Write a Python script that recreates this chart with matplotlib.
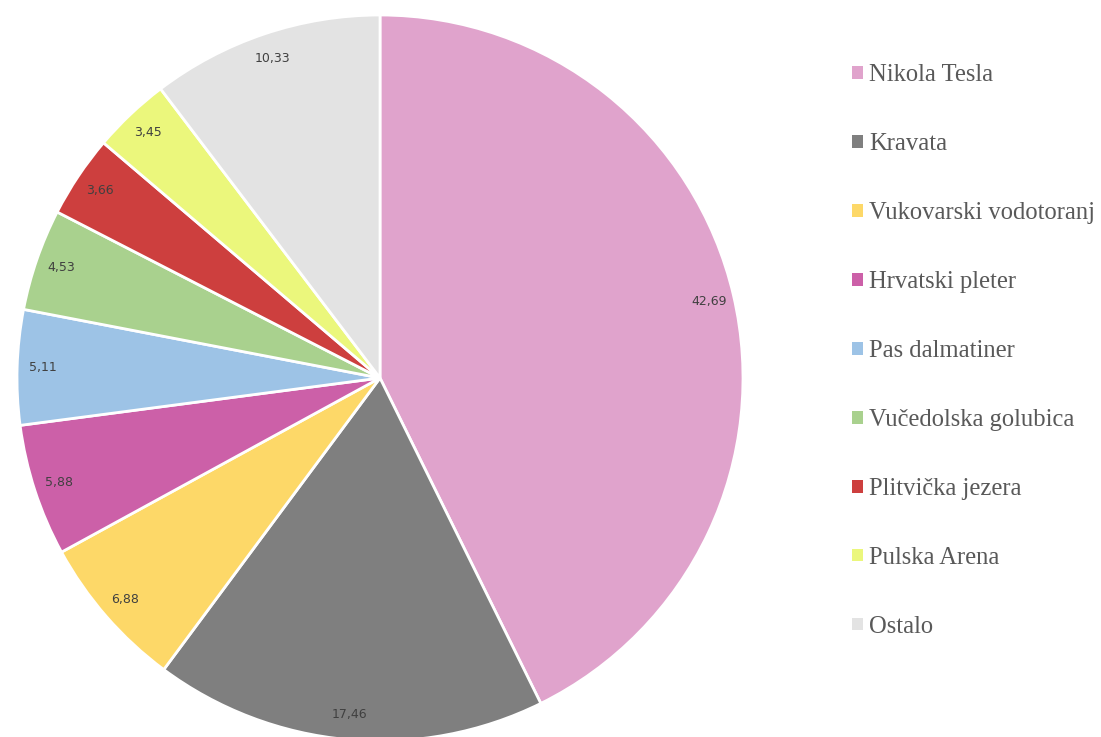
import matplotlib.pyplot as plt
from matplotlib.patches import Patch

labels = ["Nikola Tesla", "Kravata", "Vukovarski vodotoranj", "Hrvatski pleter",
          "Pas dalmatiner", "Vučedolska golubica", "Plitvička jezera",
          "Pulska Arena", "Ostalo"]
values = [42.69, 17.46, 6.88, 5.88, 5.11, 4.53, 3.66, 3.45, 10.33]
colors = ["#E0A3CC", "#7F7F7F", "#FDD868", "#CC60A8", "#9DC3E6",
          "#A9D18E", "#CD3F3E", "#EBF77C", "#E3E3E3"]

W, H = 1101, 737
fig = plt.figure(figsize=(W / 100, H / 100), dpi=100)

# pie centre (380, 378) px, radius 363 px -> bottom slightly clipped
cx, cy, r = 380, 378, 363
ax = fig.add_axes([(cx - r) / W, (H - cy - r) / H, 2 * r / W, 2 * r / H])

it = iter(values)

def fmt(pct):
    return ("%.2f" % next(it)).replace(".", ",")

wedges, texts, autotexts = ax.pie(
    values, colors=colors, startangle=90, counterclock=False, radius=1,
    autopct=fmt, pctdistance=0.93,
    wedgeprops=dict(edgecolor="white", linewidth=2),
    textprops=dict(fontsize=9, color="#404040", family="DejaVu Sans"))
ax.set_xlim(-1, 1)
ax.set_ylim(-1, 1)
ax.set_aspect("auto")
ax.axis("off")

handles = [Patch(facecolor=c, edgecolor="none") for c in colors]
fig.legend(handles, labels, loc="upper left", bbox_to_anchor=(0.754, 0.943),
           frameon=False, handlelength=0.43, handleheight=0.43,
           handletextpad=0.25, labelspacing=1.91,
           prop=dict(family="Liberation Serif", size=17.7), labelcolor="#595959")

fig.savefig("out.png", dpi=100)
